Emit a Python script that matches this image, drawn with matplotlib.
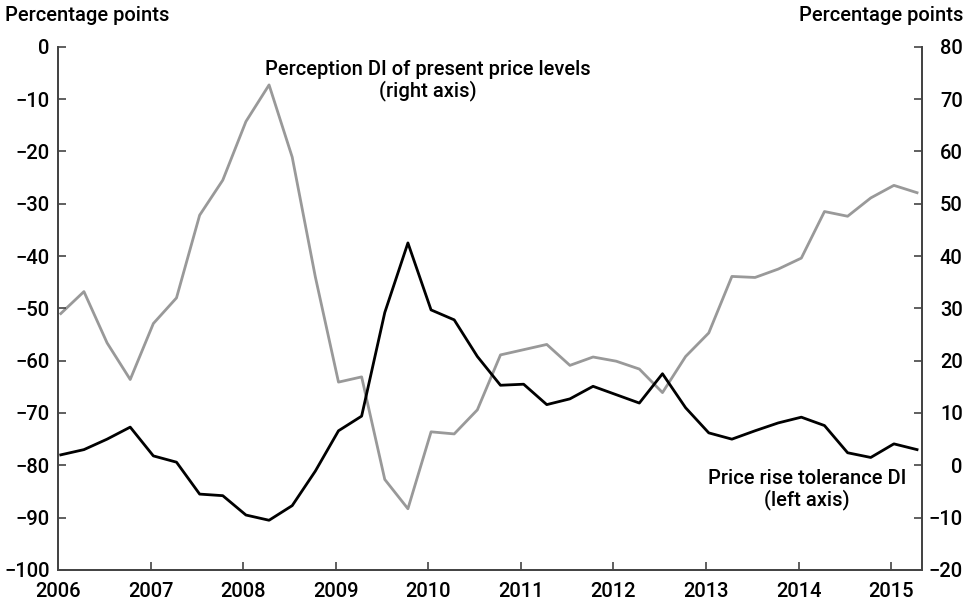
import numpy as np
import matplotlib
matplotlib.use("Agg")
import matplotlib.pyplot as plt

plt.rcParams['font.family'] = ['Roboto', 'DejaVu Sans']
plt.rcParams['font.weight'] = 500

# quarterly survey, 2006 Q1 to 2015 Q2
start_year = 2006
n_quarters = 38

# price rise tolerance DI (left axis)
tolerance = [-78.0, -77.0, -75.0, -72.7, -78.2, -79.4, -85.5, -85.8,
             -89.5, -90.5, -87.7, -81.1, -73.4, -70.6, -50.8, -37.5,
             -50.3, -52.2, -59.2, -64.7, -64.5, -68.4, -67.3, -64.9,
             -66.5, -68.1, -62.5, -69.0, -73.8, -75.0, -73.4, -71.9,
             -70.8, -72.4, -77.6, -78.5, -75.9, -77.0]

# perception DI of present price levels (right axis)
perception = [29.0, 33.2, 23.4, 16.4, 27.1, 32.0, 47.8, 54.5,
              65.7, 72.7, 58.9, 36.0, 15.9, 16.9, -2.7, -8.3,
              6.4, 6.0, 10.6, 21.1, 22.1, 23.1, 19.1, 20.7,
              19.9, 18.4, 13.9, 20.8, 25.3, 36.1, 35.9, 37.5,
              39.6, 48.5, 47.6, 51.1, 53.5, 52.1]

years = list(range(2006, 2016))

x = start_year + 0.03 + 0.25 * np.arange(n_quarters)

fig = plt.figure(figsize=(9.75, 6.05), dpi=100)
ax = fig.add_axes([0.0595, 0.0579, 0.8858, 0.8649])
ax2 = ax.twinx()

ax2.plot(x, perception, color='#999999', lw=2.0)
ax.plot(x, tolerance, color='black', lw=2.0)
ax.set_zorder(ax2.get_zorder() + 1)
ax.patch.set_visible(False)

ax.set_xlim(2006, 2015.33)
ax.set_ylim(-100, 0)
ax2.set_ylim(-20, 80)
ax.set_yticks(range(-100, 1, 10))
ax2.set_yticks(range(-20, 81, 10))
ax.set_xticks(years)
ax.set_xticklabels([str(y) for y in years])

fs = 14.5
spine_col = '#444444'
for a in (ax, ax2):
    a.spines['top'].set_visible(False)
    for s in ('left', 'right', 'bottom'):
        a.spines[s].set_color(spine_col)
        a.spines[s].set_linewidth(1.3)
    a.tick_params(direction='in', length=6, width=1.2, color=spine_col,
                  labelsize=fs, pad=6)
ax.tick_params(axis='x', pad=9)
# right axis labels are right-aligned near the figure edge
ax2.tick_params(axis='y', pad=29.5)

# labels use unicode minus, like the original
ax.set_yticklabels([str(v).replace('-', '\u2212') for v in range(-100, 1, 10)])
ax2.set_yticklabels([str(v).replace('-', '\u2212') for v in range(-20, 81, 10)],
                    ha='right')

fig.text(0.005, 0.975, 'Percentage points', fontsize=fs, ha='left', va='center')
fig.text(0.988, 0.975, 'Percentage points', fontsize=fs, ha='right', va='center')

ax2.text(2010.0, 73.5, 'Perception DI of present price levels\n(right axis)',
         fontsize=fs, ha='center', va='center', multialignment='center',
         linespacing=1.05)
ax.text(2014.09, -84.6, 'Price rise tolerance DI\n(left axis)',
        fontsize=fs, ha='center', va='center', multialignment='center',
        linespacing=1.05)

fig.savefig('out.png', dpi=100)
